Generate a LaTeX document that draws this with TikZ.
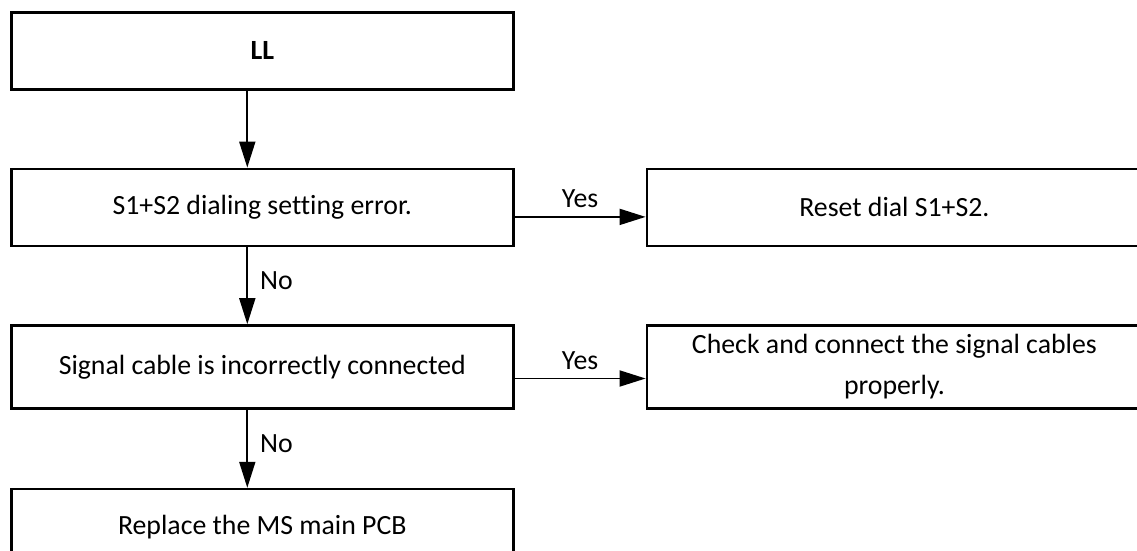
\documentclass[tikz,border=0pt]{standalone}
\usepackage{fontspec}
\setmainfont{Carlito}[Ligatures=NoCommon]
\usetikzlibrary{arrows.meta,positioning}

\begin{document}
\begin{tikzpicture}[
  >={Triangle[length=13pt, width=8pt]}, font=\fontsize{13.9}{20.5}\selectfont,
  st/.style={draw, line width=1.3pt, minimum width=251pt, minimum height=38.5pt,
             align=center, inner sep=0pt},
  arr/.style={->, line width=0.9pt},
  lbl/.style={inner sep=0pt},
]
  \useasboundingbox (0,0) rectangle (568.5pt,-275.5pt);
  \clip (0,0) rectangle (568.5pt,-275.5pt);
  \node[st, anchor=north west] (LL) at (5pt,-5.5pt) {\textbf{LL}};
  \node[st, below=38.5pt of LL] (S12) {S1+S2 dialing setting error.};
  \node[st, minimum height=41.5pt, below=38.5pt of S12] (Sig) {Signal cable is incorrectly connected};
  \node[st, minimum height=37.5pt, below=39pt of Sig] (Rep) {Replace the MS main PCB};
  \node[st, minimum width=247.5pt, right=65.5pt of S12] (Rst) {Reset dial S1+S2.};
  \node[st, minimum width=247.5pt, minimum height=41.5pt, right=65.5pt of Sig] (Chk)
       {Check and connect the signal cables\\properly.};
  \draw[arr] ([xshift=-7.5pt]LL.south) -- ([xshift=-7.5pt]S12.north);
  \draw[arr] ([xshift=-7.5pt]S12.south) -- node[lbl, right=6pt, pos=0.43]{No} ([xshift=-7.5pt]Sig.north);
  \draw[arr] ([xshift=-7.5pt]Sig.south) -- node[lbl, right=6pt, pos=0.43]{No} ([xshift=-7.5pt]Rep.north);
  \draw[arr] ([yshift=-4.75pt]S12.east) -- node[lbl, above=4pt]{Yes} ([yshift=-4.75pt]Rst.west);
  \draw[arr] ([yshift=-5.75pt]Sig.east) -- node[lbl, above=4pt]{Yes} ([yshift=-5.75pt]Chk.west);
\end{tikzpicture}
\end{document}
